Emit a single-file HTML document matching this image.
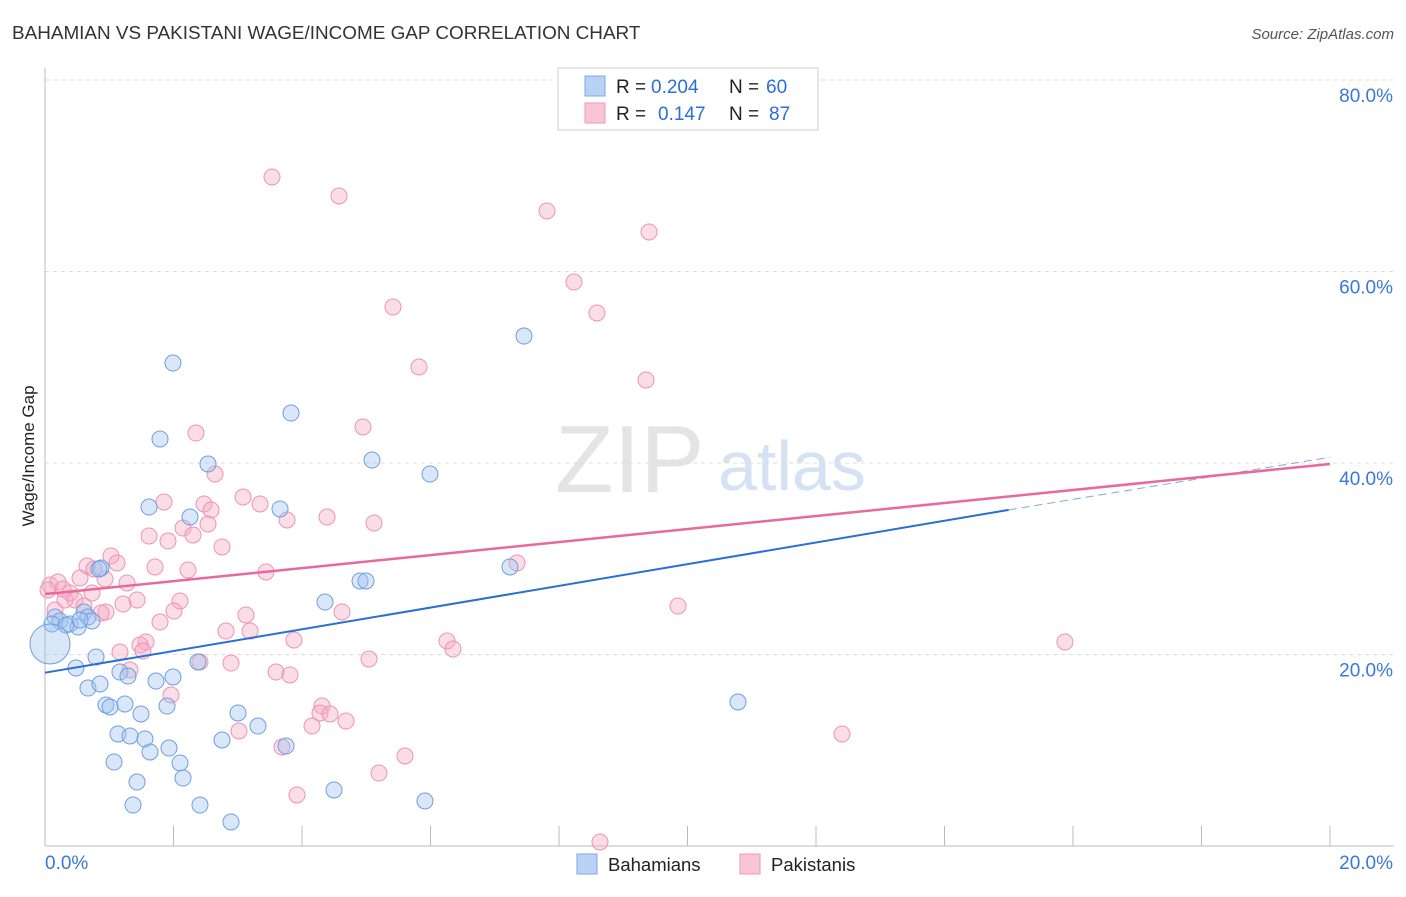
<!DOCTYPE html>
<html><head><meta charset="utf-8"><style>
body{margin:0;background:#fff;font-family:"Liberation Sans",sans-serif}
svg text{font-family:"Liberation Sans",sans-serif}
</style></head><body>
<svg id="chart" width="1406" height="892">
<text x="12" y="39" font-size="18.9" fill="#333">BAHAMIAN VS PAKISTANI WAGE/INCOME GAP CORRELATION CHART</text>
<text x="1394" y="39" font-size="15" fill="#555" text-anchor="end" font-style="italic">Source: ZipAtlas.com</text>
<text x="34" y="456" font-size="17" fill="#222" text-anchor="middle" transform="rotate(-90 34 456)">Wage/Income Gap</text>
<text x="555" y="492" font-size="96" fill="#e4e4e4" font-family="Liberation Serif">ZIP</text>
<text x="718" y="490" font-size="70" fill="#d4e2f4">atlas</text>
<g id="grid"></g><g id="pts"></g><g id="trend"></g>
<g>
<rect x="558" y="68" width="260" height="62" fill="#fff" stroke="#ccc"/>
<rect x="585" y="76" width="20" height="20" fill="#b7d2f5" stroke="#7aa8e6"/>
<rect x="585" y="103" width="20" height="20" fill="#f9c4d4" stroke="#ef9ab6"/>
<text x="616" y="93" font-size="19" fill="#222">R =</text>
<text x="651" y="93" font-size="19" fill="#2a6fd6">0.204</text>
<text x="729" y="93" font-size="19" fill="#222">N =</text>
<text x="766" y="93" font-size="19" fill="#2a6fd6">60</text>
<text x="616" y="120" font-size="19" fill="#222">R =</text>
<text x="658" y="120" font-size="19" fill="#2a6fd6">0.147</text>
<text x="729" y="120" font-size="19" fill="#222">N =</text>
<text x="769" y="120" font-size="19" fill="#2a6fd6">87</text>
</g>
<g>
<rect x="577" y="854" width="20" height="20" fill="#b7d2f5" stroke="#7aa8e6"/>
<text x="608" y="871" font-size="18.5" fill="#222">Bahamians</text>
<rect x="740" y="854" width="20" height="20" fill="#f9c4d4" stroke="#ef9ab6"/>
<text x="771" y="871" font-size="18.5" fill="#222">Pakistanis</text>
</g>
</svg>
<script>
const yTicks=[20,40,60,80];
const xTickLabels=["0.0%","20.0%"];
const bluePx=[[173,363],[160,439],[291,413],[208,464],[372,460],[430,474],[524,336],[149,507],[190,517],[280,509],[360,581],[366,581],[325,602],[510,567],[101,568],[198,662],[55,617],[60,621],[70,624],[78,627],[84,612],[88,617],[92,621],[96,657],[76,668],[88,688],[100,684],[106,705],[110,707],[125,704],[120,672],[128,676],[141,714],[118,734],[130,736],[145,739],[156,681],[173,677],[167,706],[169,748],[150,752],[180,763],[183,778],[114,762],[137,782],[133,805],[200,805],[231,822],[238,713],[222,740],[258,726],[286,746],[334,790],[425,801],[738,702],[52,624],[66,625],[80,620],[99,569],[50,644]];
const pinkPx=[[272,177],[339,196],[547,211],[649,232],[574,282],[393,307],[597,313],[419,367],[646,380],[363,427],[196,433],[215,474],[243,497],[260,504],[164,502],[204,504],[211,510],[287,520],[327,517],[374,523],[149,536],[183,528],[193,535],[208,524],[168,541],[222,547],[111,556],[117,563],[87,566],[94,569],[155,567],[188,570],[266,572],[517,563],[127,583],[80,578],[105,579],[50,585],[58,582],[63,589],[70,593],[92,593],[137,600],[123,604],[180,601],[246,615],[106,612],[101,613],[174,611],[160,622],[226,631],[250,631],[294,640],[342,612],[447,641],[453,649],[678,606],[1065,642],[146,642],[140,645],[143,651],[120,652],[200,662],[231,663],[369,659],[276,672],[290,675],[171,695],[322,706],[320,713],[330,714],[312,726],[346,721],[239,731],[282,747],[405,756],[379,773],[297,795],[600,842],[842,734],[55,610],[65,600],[48,590],[75,600],[84,606],[130,670]];
const blueX=bluePx.map(p=>+((p[0]-45)/1285*20).toFixed(3));
const blueY=bluePx.map(p=>+((846-p[1])/191.5*20).toFixed(2));
const pinkX=pinkPx.map(p=>+((p[0]-45)/1285*20).toFixed(3));
const pinkY=pinkPx.map(p=>+((846-p[1])/191.5*20).toFixed(2));
const blueTrend=[0,18.1,15,35.1,20,40.6];
const pinkTrend=[0,26.3,20,39.9];
const X=v=>45+v/20*1285, Y=v=>846-v/20*191.5;
const NS="http://www.w3.org/2000/svg";
function mk(parent,tag,attrs){const e=document.createElementNS(NS,tag);for(const k in attrs)e.setAttribute(k,attrs[k]);document.getElementById(parent).appendChild(e);return e;}
let e;
yTicks.forEach(t=>{
 e=mk('grid','line',{x1:45,x2:1394,y1:Y(t),y2:Y(t),stroke:'#ddd','stroke-dasharray':'4 4'});
 
 
 e=mk('grid','text',{x:1393,y:Y(t)+22,'font-size':19,fill:'#3a78d8','text-anchor':'end'});e.textContent=t+'.0%';
 
 
});
e=mk('grid','line',{x1:45,x2:45,y1:68,y2:846,stroke:'#bbb'});


e=mk('grid','line',{x1:45,x2:1394,y1:846,y2:846,stroke:'#bbb'});


for(let i=0;i<=10;i++){e=mk('grid','line',{x1:X(i*2),x2:X(i*2),y1:826,y2:846,stroke:'#bbb'});
 
 }
e=mk('grid','text',{x:45,y:869,'font-size':19,fill:'#3a78d8'});e.textContent=xTickLabels[0];


e=mk('grid','text',{x:1393,y:869,'font-size':19,fill:'#3a78d8','text-anchor':'end'});e.textContent=xTickLabels[1];


pinkX.forEach((x,i)=>{e=mk('pts','circle',{cx:X(x),cy:Y(pinkY[i]),r:8,fill:'rgba(246,170,195,0.4)',stroke:'#ee93b1','stroke-width':1});
 
 });
blueX.forEach((x,i)=>{e=mk('pts','circle',{cx:X(x),cy:Y(blueY[i]),r:i==blueX.length-1?20:8,fill:'rgba(160,196,240,0.4)',stroke:'#6e9fe0','stroke-width':1});
 
 });
e=mk('trend','line',{x1:X(blueTrend[0]),y1:Y(blueTrend[1]),x2:X(blueTrend[2]),y2:Y(blueTrend[3]),stroke:'#2a6fd6','stroke-width':2});


e=mk('trend','line',{x1:X(blueTrend[2]),y1:Y(blueTrend[3]),x2:X(blueTrend[4]),y2:Y(blueTrend[5]),stroke:'#7aa8e6','stroke-width':1,'stroke-dasharray':'8 5'});


e=mk('trend','line',{x1:X(pinkTrend[0]),y1:Y(pinkTrend[1]),x2:X(pinkTrend[2]),y2:Y(pinkTrend[3]),stroke:'#e8699a','stroke-width':2.5});


</script>
</body></html>
